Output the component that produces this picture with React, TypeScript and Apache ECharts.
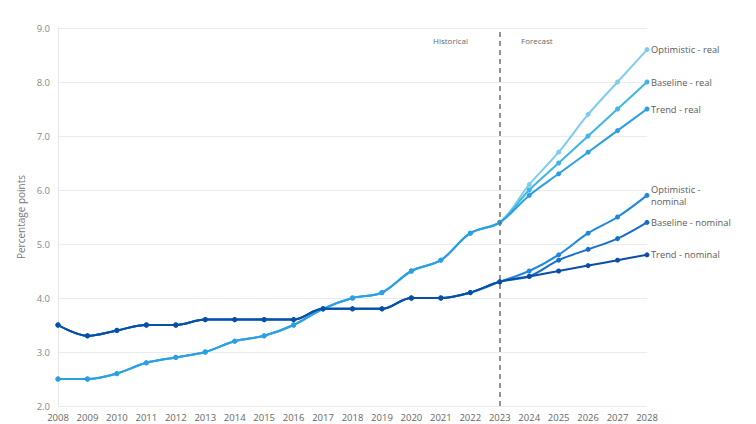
import React, { useEffect, useRef } from "react";
import * as echarts from "echarts";

const years = ["2008","2009","2010","2011","2012","2013","2014","2015","2016","2017","2018","2019","2020","2021","2022","2023","2024","2025","2026","2027","2028"];

const histReal = [2.5, 2.5, 2.6, 2.8, 2.9, 3.0, 3.2, 3.3, 3.5, 3.8, 4.0, 4.1, 4.5, 4.7, 5.2, 5.4];
const histNominal = [3.5, 3.3, 3.4, 3.5, 3.5, 3.6, 3.6, 3.6, 3.6, 3.8, 3.8, 3.8, 4.0, 4.0, 4.1, 4.3];

const optimisticReal = [6.1, 6.7, 7.4, 8.0, 8.6];
const baselineReal = [6.0, 6.5, 7.0, 7.5, 8.0];
const trendReal = [5.9, 6.3, 6.7, 7.1, 7.5];
const optimisticNominal = [4.5, 4.8, 5.2, 5.5, 5.9];
const baselineNominal = [4.4, 4.7, 4.9, 5.1, 5.4];
const trendNominal = [4.4, 4.5, 4.6, 4.7, 4.8];

const yTicks = [2, 3, 4, 5, 6, 7, 8, 9];

export default function App() {
  const ref = useRef<HTMLDivElement>(null);
  useEffect(() => {
    if (!ref.current) return;
    const chart = echarts.init(ref.current, null, { renderer: "svg" });
    const font = "'Open Sans', sans-serif";
    const mk = (name: string, label: string, hist: number[], fc: number[], color: string, z: number, withMark = false) => ({
      name,
      type: "line",
      data: [...hist, ...fc],
      smooth: 0.35,
      symbol: "circle",
      symbolSize: 5,
      z,
      lineStyle: { color, width: 2 },
      itemStyle: { color },
      endLabel: {
        show: true,
        formatter: label,
        color: "#5a5a5a",
        fontSize: 9.3,
        fontFamily: font,
        distance: 4,
        lineHeight: 12,
      },
      markLine: withMark
        ? {
            silent: true,
            symbol: "none",
            label: { show: false },
            lineStyle: { color: "#6f6f6f", type: [5, 4], width: 1.5 },
            data: [{ xAxis: "2023" }],
          }
        : undefined,
    });
    chart.setOption({
      animation: false,
      backgroundColor: "#fff",
      grid: { left: 58, right: 109, top: 28, bottom: 18, containLabel: false },
      xAxis: {
        type: "category",
        data: years,
        boundaryGap: false,
        axisLine: { show: false },
        axisTick: { show: false },
        axisLabel: { color: "#666", fontSize: 9.5, fontFamily: font, margin: 6, interval: 0 },
        splitLine: { show: false },
      },
      yAxis: {
        type: "value",
        min: yTicks[0],
        max: yTicks[yTicks.length - 1],
        interval: 1,
        name: "Percentage points",
        nameLocation: "middle",
        nameGap: 30,
        nameTextStyle: { color: "#777", fontSize: 10, fontFamily: font },
        axisLine: { show: true, lineStyle: { color: "#e6e6e6" } },
        axisTick: { show: false },
        axisLabel: { color: "#888", fontSize: 9.5, fontFamily: font, margin: 8, formatter: (v: number) => v.toFixed(1) },
        splitLine: { lineStyle: { color: "#ebebeb" } },
      },
      graphic: [
        { type: "text", left: 433, top: 36, style: { text: "Historical", fill: "#666", fontSize: 8, fontFamily: font } },
        { type: "text", left: 521, top: 36, style: { text: "Forecast", fill: "#666", fontSize: 8, fontFamily: font } },
      ],
      series: [
        mk("Optimistic - real", "Optimistic - real", histReal, optimisticReal, "#7ccdf0", 2, true),
        mk("Baseline - real", "Baseline - real", histReal, baselineReal, "#3db5e6", 3),
        mk("Trend - real", "Trend - real", histReal, trendReal, "#2b9fe4", 4),
        mk("Optimistic - nominal", "Optimistic -\nnominal", histNominal, optimisticNominal, "#1d88e0", 5),
        mk("Baseline - nominal", "Baseline - nominal", histNominal, baselineNominal, "#166ccb", 6),
        mk("Trend - nominal", "Trend - nominal", histNominal, trendNominal, "#0b4ea6", 7),
      ],
    });
    return () => chart.dispose();
  }, []);
  return <div ref={ref} style={{ width: 756, height: 424, position: "absolute", left: 0, top: 0 }} />;
}
